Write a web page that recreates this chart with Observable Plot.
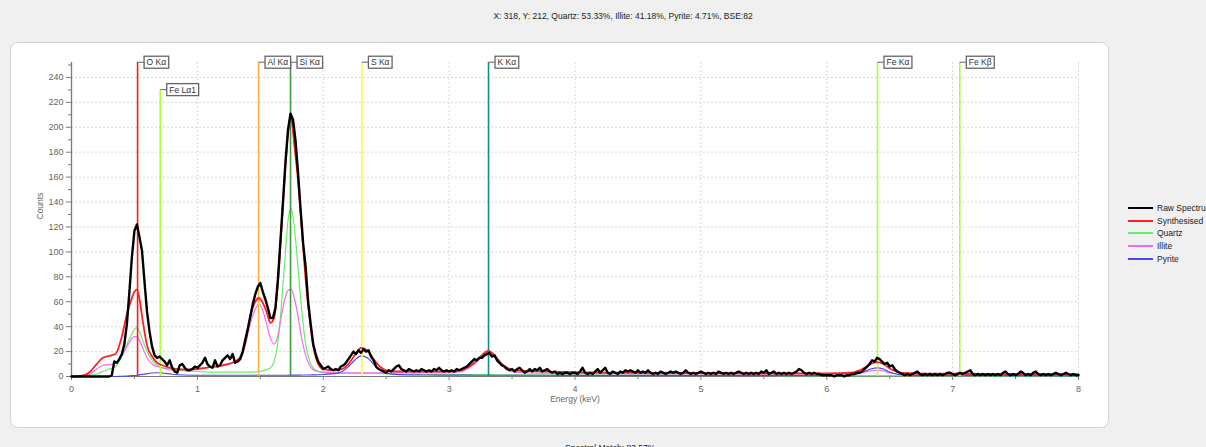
<!DOCTYPE html>
<html>
<head>
<meta charset="utf-8">
<script src="https://cdn.jsdelivr.net/npm/d3@7"></script>
<script src="https://cdn.jsdelivr.net/npm/@observablehq/plot@0.6"></script>
<style>
  html, body { margin: 0; padding: 0; }
  body { width: 1206px; height: 447px; overflow: hidden; background: #f0f0f0; position: relative;
         font-family: "Liberation Sans", Arial, sans-serif; }
  #title { position: absolute; left: 0; top: 11px; width: 1246px; text-align: center; font-size: 8.5px; color: #222; }
  #panel { position: absolute; left: 10px; top: 42px; width: 1097px; height: 384px; background: #fff;
           border: 1px solid #d4d4d4; border-radius: 8px; }
  #chart { position: absolute; left: 0; top: 40px; }
  #legend { position: absolute; left: 1128px; top: 202px; font-size: 8.5px; color: #222; white-space: nowrap; }
  #legend .row { height: 12.6px; display: flex; align-items: center; }
  #legend .sw { display: inline-block; width: 25px; margin-right: 4px; }
  #caption { position: absolute; left: 565px; top: 443px; font-size: 8.5px; color: #222; }
</style>
</head>
<body>
<div id="title"></div>
<div id="panel"></div>
<div id="chart"></div>
<div id="legend"></div>
<div id="caption"></div>
<script>
// ---------- text ----------
const titleText = "X: 318, Y: 212, Quartz: 53.33%, Illite: 41.18%, Pyrite: 4.71%, BSE:82";
const captionText = "Spectral Match: 83.57%";
const xLabel = "Energy (keV)";
const yLabel = "Counts";

// ---------- ticks ----------
const xTicks = [0, 1, 2, 3, 4, 5, 6, 7, 8];
const xMinor = [0.5, 1.5, 2.5, 3.5, 4.5, 5.5, 6.5, 7.5];
const yTicks = [0, 20, 40, 60, 80, 100, 120, 140, 160, 180, 200, 220, 240];
const yMinor = [10, 30, 50, 70, 90, 110, 130, 150, 170, 190, 210, 230, 250];

// ---------- raw spectrum (channels every 0.02 keV from 0 to 8 keV) ----------
const rawStart = 0, rawStep = 0.02;
const rawCounts = [
  0,0,0,0,0,0,0,0,0,0,0,0,0,0,0,0,1,12,11,14,18,26,42,68,96,
  117,122,112,101,76,52,36,24,17,15,16,14,12,9,13,7,4,3,9,10,7,5,5,6,8,
  7,9,11,15,10,8,7,13,8,9,13,15,17,14,18,11,12,14,20,29,38,48,58,66,72,
  75,68,62,55,47,47,55,78,109,140,172,198,211,206,189,163,134,107,88,60,42,26,18,12,9,
  6,7,8,6,5,6,5,8,9,11,14,17,20,18,21,19,22,20,21,16,13,8,6,5,4,
  3,5,4,6,8,9,6,5,4,6,5,4,5,4,6,5,4,5,4,6,5,7,5,4,5,
  4,5,4,6,5,6,7,8,10,12,14,13,15,15,17,18,19,16,17,13,11,9,8,6,5,
  6,4,6,7,5,3,4,6,4,6,5,7,4,5,6,4,3,4,2,3,2,3,3,2,3,
  3,2,4,7,3,2,3,2,4,6,3,5,7,3,2,4,3,2,4,3,5,4,5,4,3,
  5,3,4,3,5,3,2,3,2,4,3,2,3,4,3,4,3,2,3,5,3,2,3,2,3,
  4,3,2,3,2,3,2,4,3,2,3,2,3,2,3,4,3,2,3,2,3,2,3,2,4,
  3,5,2,3,4,2,3,2,3,2,3,2,3,4,6,5,3,2,3,2,3,2,2,1,1,
  1,1,1,0,1,1,1,0,1,1,2,2,3,3,4,6,8,10,13,12,15,14,12,10,11,
  8,9,6,4,3,2,1,2,1,2,3,4,2,1,2,1,2,1,2,1,2,1,2,3,3,
  2,1,2,3,2,3,4,5,2,1,2,1,2,1,2,1,2,1,2,1,3,4,2,1,2,
  1,2,4,3,1,2,1,3,4,2,1,2,1,2,1,2,3,2,1,2,3,2,1,2,1,
  1
];

// ---------- fitted components (knots in keV) ----------
const knotE = [
  0, 0.1, 0.15, 0.2, 0.25, 0.3, 0.35, 0.4, 0.44, 0.47,
  0.5, 0.52, 0.54, 0.57, 0.6, 0.64, 0.68, 0.72, 0.8, 0.9,
  1.0, 1.1, 1.2, 1.3, 1.35, 1.38, 1.42, 1.46, 1.49, 1.52,
  1.55, 1.58, 1.61, 1.64, 1.67, 1.7, 1.72, 1.745, 1.77, 1.8,
  1.83, 1.86, 1.89, 1.92, 1.96, 2.0, 2.1, 2.15, 2.2, 2.25,
  2.3, 2.35, 2.4, 2.45, 2.5, 2.6, 2.8, 3.0, 3.1, 3.15,
  3.2, 3.25, 3.31, 3.37, 3.42, 3.47, 3.52, 3.6, 3.8, 4.0,
  4.5, 5.0, 5.5, 6.0, 6.2, 6.25, 6.3, 6.35, 6.4, 6.45,
  6.5, 6.55, 6.6, 6.8, 7.0, 7.06, 7.12, 7.5, 8.0
];
const synthesised = [
  0, 1, 4, 10, 15, 16.5, 18, 32, 50, 60,
  68, 70, 62, 42, 25, 16, 11, 9, 6.5, 5.5,
  6, 7.5, 9, 12, 16, 27, 48, 60, 63, 59,
  52, 43, 47, 76, 122, 170, 195, 207, 186, 157,
  118, 78, 48, 25, 10, 6, 5, 6, 10, 17,
  23, 21, 14, 8, 5, 4, 4, 4, 5, 7.5,
  11, 16, 20.5, 16, 10, 6.5, 5, 4.5, 4, 3.5,
  3, 2.8, 2.6, 2.5, 3, 4.5, 7, 10, 11.5, 10,
  6.5, 4, 2.8, 2.2, 2.2, 2.6, 2.2, 2, 1.8
];
const quartz = [
  0, 0.5, 1, 2, 4, 6, 8, 16, 26, 32,
  38, 39, 36, 28, 20, 13, 9, 7, 5, 4.5,
  4, 3.5, 3.5, 3.5, 3.5, 3.5, 3.5, 3.7, 4, 4.5,
  5.5, 7, 12, 28, 60, 100, 125, 135, 120, 87,
  52, 26, 13, 7, 4, 3, 2.5, 2.5, 2.5, 2.5,
  2.5, 2.5, 2.4, 2.3, 2.2, 2, 1.8, 1.6, 1.5, 1.5,
  1.5, 1.5, 1.5, 1.4, 1.4, 1.3, 1.3, 1.3, 1.2, 1.2,
  1, 0.9, 0.8, 0.7, 0.7, 0.7, 0.7, 0.7, 0.7, 0.7,
  0.7, 0.6, 0.6, 0.6, 0.6, 0.6, 0.6, 0.5, 0.5
];
const illite = [
  0, 0.5, 2, 6, 9, 9.5, 10.5, 16, 24, 29,
  32, 32, 29, 22, 15, 10, 8, 7, 6, 6,
  6.5, 7.5, 8.5, 12, 18, 25, 42, 54, 58, 53,
  42, 31, 26, 33, 50, 64, 69, 70, 63, 48,
  30, 17, 9, 5.5, 4, 3.5, 3, 3, 3, 3,
  3, 3, 3, 3, 3, 3, 3, 3, 4, 6.5,
  10, 15, 19.5, 15, 9, 5, 3.5, 3, 2.7, 2.5,
  2.3, 2.1, 1.9, 1.8, 2, 2.5, 3.5, 4.5, 5, 4.5,
  3, 2.2, 1.8, 1.7, 1.7, 1.8, 1.7, 1.6, 1.5
];
const pyrite = [
  0, 0, 0, 0, 0, 0, 0, 0.2, 0.4, 0.6,
  0.8, 1, 1.3, 1.8, 2.3, 2.8, 3, 2.8, 1.8, 1.2,
  1, 1, 1, 1, 1, 1, 1, 1, 1, 1,
  1, 1, 1, 1, 1, 1, 1, 1.1, 1.1, 1.1,
  1.2, 1.2, 1.2, 1.3, 1.4, 1.6, 2.5, 4, 8, 13,
  16.5, 15, 10, 5, 2.5, 1.5, 1.2, 1.1, 1.1, 1.1,
  1, 1, 1, 1, 1, 1, 1, 1, 1, 0.9,
  0.9, 0.8, 0.8, 0.8, 1.2, 2.2, 4, 6, 7, 6,
  3.5, 2, 1.2, 0.8, 0.9, 1.3, 0.9, 0.7, 0.6
];

// ---------- element marker lines ----------
const elemLabels = ["O Kα", "Fe Lα1", "Al Kα", "Si Kα", "S Kα", "K Kα", "Fe Kα", "Fe Kβ"];
const elemEnergy = [0.525, 0.705, 1.486, 1.740, 2.307, 3.313, 6.403, 7.057];
const elemTop    = [252, 230, 252, 252, 252, 252, 252, 252];
const elemColor  = ["#ff1a1a", "#adff2f", "#ffb13d", "#3d9b3d", "#ffff33", "#138a8a", "#adff2f", "#adff2f"];

// ---------- legend ----------
const seriesNames  = ["Raw Spectrum", "Synthesised", "Quartz", "Illite", "Pyrite"];
const seriesColors = ["#000000", "#ff2020", "#66ee66", "#f06cf0", "#4848f0"];
const seriesWidths = [2.4, 1.8, 1.2, 1.2, 1.2];

// ---------- build ----------
document.getElementById("title").textContent = titleText;
document.getElementById("caption").textContent = captionText;

const rawData = rawCounts.map((c, i) => ({e: rawStart + i * rawStep, c}));
const comp = arr => knotE.map((e, i) => ({e, v: arr[i]}));
const elems = elemLabels.map((label, i) => ({label, e: elemEnergy[i], top: elemTop[i], color: elemColor[i]}));

const font = '"Liberation Sans", Arial, sans-serif';
const axisGray = "#7a7a7a";

const plot = Plot.plot({
  width: 1108,
  height: 376,
  marginLeft: 71,
  marginRight: 30,
  marginTop: 22,
  marginBottom: 40,
  x: {domain: [0, 8]},
  y: {domain: [0, 252]},
  color: {type: "identity"},
  style: {background: "transparent", fontFamily: font, fontSize: "9px", color: "#555", overflow: "visible"},
  marks: [
    Plot.ruleY(yTicks.filter(d => d > 0), {stroke: "#d9d9d9", strokeDasharray: "2,2"}),
    Plot.ruleX(xTicks.filter(d => d > 0), {y1: 0, y2: 252, stroke: "#d9d9d9", strokeDasharray: "2,2"}),
    Plot.axisY(yTicks, {anchor: "left", tickSize: 5, tickPadding: 3, label: null, stroke: axisGray, fill: "#666", fontSize: 9, tickFormat: d => String(d)}),
    Plot.axisY(yMinor, {anchor: "left", tickSize: 3, tickFormat: () => "", label: null, stroke: axisGray}),
    Plot.axisX(xTicks, {anchor: "bottom", tickSize: 4, tickPadding: 5, label: null, stroke: axisGray, fill: "#666", fontSize: 9, tickFormat: d => String(d)}),
    Plot.axisX(xMinor, {anchor: "bottom", tickSize: 3, tickFormat: () => "", label: null, stroke: axisGray}),
    Plot.ruleX([0], {y1: 0, y2: 252, stroke: axisGray, strokeWidth: 1.3}),
    Plot.ruleY([0], {stroke: axisGray}),
    Plot.text([yLabel], {frameAnchor: "left", dx: -31, rotate: -90, fill: "#666", fontSize: 8.5}),
    Plot.text([xLabel], {frameAnchor: "bottom", dy: 25, fill: "#666", fontSize: 8.5}),
    Plot.line(comp(quartz), {x: "e", y: "v", stroke: seriesColors[2], strokeWidth: seriesWidths[2], curve: "monotone-x"}),
    Plot.line(comp(illite), {x: "e", y: "v", stroke: seriesColors[3], strokeWidth: seriesWidths[3], curve: "monotone-x"}),
    Plot.line(comp(pyrite), {x: "e", y: "v", stroke: seriesColors[4], strokeWidth: seriesWidths[4], curve: "monotone-x"}),
    Plot.ruleX(elems, {x: "e", y1: 0, y2: "top", stroke: "color", strokeWidth: 1.6}),
    Plot.line(comp(synthesised), {x: "e", y: "v", stroke: seriesColors[1], strokeWidth: seriesWidths[1], curve: "monotone-x"}),
    Plot.line(rawData, {x: "e", y: "c", stroke: seriesColors[0], strokeWidth: seriesWidths[0], curve: "linear"}),
    Plot.text(elems, {x: "e", y: "top", text: "label", dx: 9, textAnchor: "start", fill: "#333", fontSize: 8.5})
  ]
});

document.getElementById("chart").appendChild(plot);

// label boxes with a short connector, as in the reference
const ns = "http://www.w3.org/2000/svg";
const labelSet = new Set(elemLabels);
plot.querySelectorAll("text").forEach(t => {
  if (!labelSet.has(t.textContent)) return;
  const parent = t.parentNode;
  const b = t.getBBox();
  const tr = t.getAttribute("transform");
  const r = document.createElementNS(ns, "rect");
  r.setAttribute("x", b.x - 2.5);
  r.setAttribute("y", b.y - 1);
  r.setAttribute("width", b.width + 5);
  r.setAttribute("height", b.height + 2);
  r.setAttribute("fill", "#fff");
  r.setAttribute("stroke", "#666");
  r.setAttribute("stroke-width", 1.3);
  if (tr) r.setAttribute("transform", tr);
  const l = document.createElementNS(ns, "line");
  const cy = b.y + b.height / 2;
  l.setAttribute("x1", b.x - 9);
  l.setAttribute("x2", b.x - 2.5);
  l.setAttribute("y1", cy);
  l.setAttribute("y2", cy);
  l.setAttribute("stroke", "#666");
  if (tr) l.setAttribute("transform", tr);
  parent.insertBefore(r, t);
  parent.insertBefore(l, r);
});

// legend
const legend = document.getElementById("legend");
seriesNames.forEach((name, i) => {
  const row = document.createElement("div");
  row.className = "row";
  const sw = document.createElement("span");
  sw.className = "sw";
  sw.style.borderTop = `${Math.max(2, seriesWidths[i])}px solid ${seriesColors[i]}`;
  row.appendChild(sw);
  row.appendChild(document.createTextNode(name));
  legend.appendChild(row);
});
</script>
</body>
</html>
